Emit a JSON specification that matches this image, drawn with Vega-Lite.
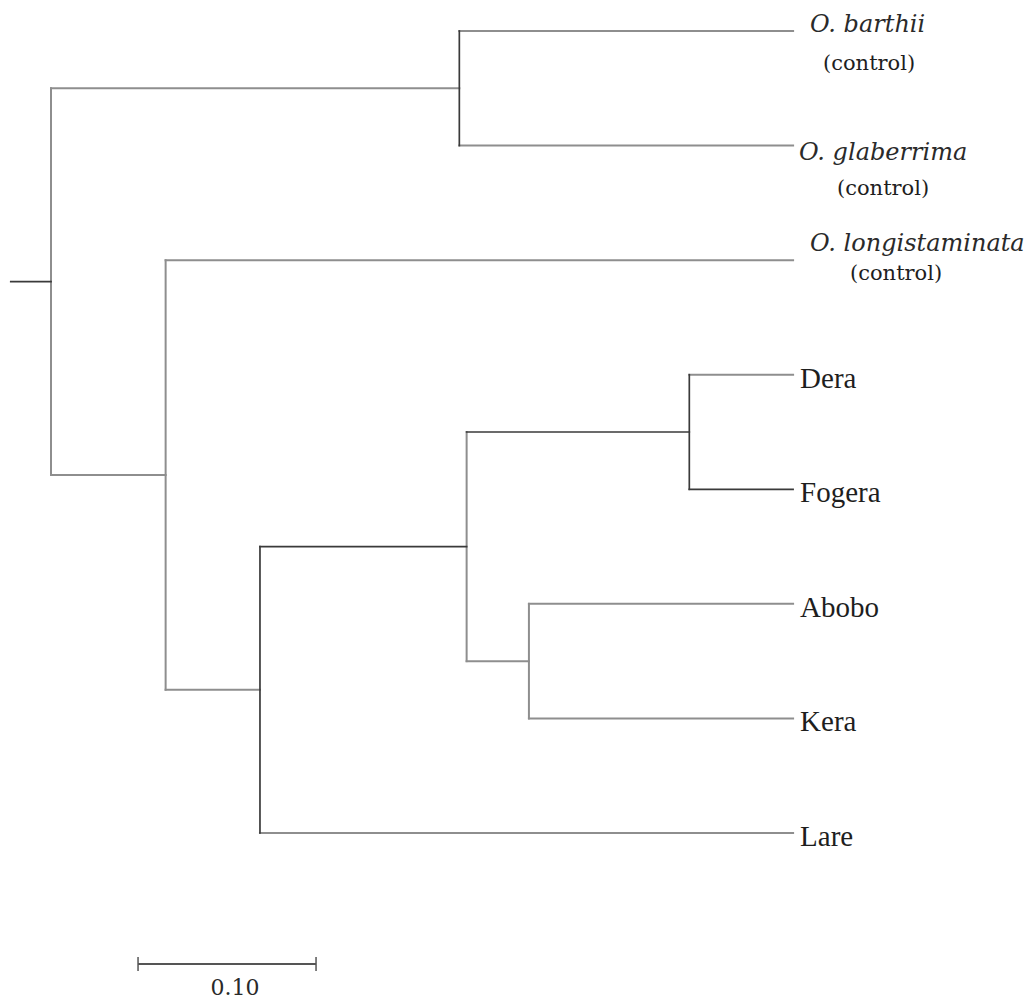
{
  "$schema": "https://vega.github.io/schema/vega-lite/v6.json",
  "width": 1032,
  "height": 1001,
  "autosize": {"type": "fit", "contains": "padding"},
  "padding": 0,
  "background": "white",
  "config": {"view": {"stroke": null}},
  "datasets": {
    "branches": [
      {"x": 0, "x2": 0, "y": 0.5, "y2": 3.875},
      {"x": 0, "x2": 0.2294, "y": 0.5, "y2": 0.5},
      {"x": 0.2294, "x2": 0.4169, "y": 0, "y2": 0},
      {"x": 0.2294, "x2": 0.4169, "y": 1, "y2": 1},
      {"x": 0, "x2": 0.0644, "y": 3.875, "y2": 3.875},
      {"x": 0.0644, "x2": 0.0644, "y": 2, "y2": 5.75},
      {"x": 0.0644, "x2": 0.4169, "y": 2, "y2": 2},
      {"x": 0.0644, "x2": 0.1174, "y": 5.75, "y2": 5.75},
      {"x": 0.1174, "x2": 0.4169, "y": 7, "y2": 7},
      {"x": 0.2335, "x2": 0.2335, "y": 3.5, "y2": 5.5},
      {"x": 0.2335, "x2": 0.2685, "y": 5.5, "y2": 5.5},
      {"x": 0.2685, "x2": 0.2685, "y": 5, "y2": 6},
      {"x": 0.2685, "x2": 0.4169, "y": 5, "y2": 5},
      {"x": 0.2685, "x2": 0.4169, "y": 6, "y2": 6},
      {"x": 0.3586, "x2": 0.4169, "y": 3, "y2": 3}
    ],
    "dark_branches": [
      {"x": -0.0226, "x2": 0, "y": 2.1875, "y2": 2.1875},
      {"x": 0.2294, "x2": 0.2294, "y": 0, "y2": 1},
      {"x": 0.1174, "x2": 0.1174, "y": 4.5, "y2": 7},
      {"x": 0.1174, "x2": 0.2335, "y": 4.5, "y2": 4.5},
      {"x": 0.2335, "x2": 0.3586, "y": 3.5, "y2": 3.5},
      {"x": 0.3586, "x2": 0.3586, "y": 3, "y2": 4},
      {"x": 0.3586, "x2": 0.4169, "y": 4, "y2": 4}
    ],
    "tips": [
      {"taxon": "O. barthii", "status": "control", "x": 0.4169, "y": 0},
      {"taxon": "O. glaberrima", "status": "control", "x": 0.4169, "y": 1},
      {"taxon": "O. longistaminata", "status": "control", "x": 0.4169, "y": 2},
      {"taxon": "Dera", "status": "cultivar", "x": 0.4169, "y": 3},
      {"taxon": "Fogera", "status": "cultivar", "x": 0.4169, "y": 4},
      {"taxon": "Abobo", "status": "cultivar", "x": 0.4169, "y": 5},
      {"taxon": "Kera", "status": "cultivar", "x": 0.4169, "y": 6},
      {"taxon": "Lare", "status": "cultivar", "x": 0.4169, "y": 7}
    ],
    "scale_bar": [
      {"x": 0.0489, "x2": 0.1489, "y": 8.143, "label": "0.10"}
    ]
  },
  "encoding": {
    "x": {"type": "quantitative", "scale": {"domain": [-0.02865, 0.55112], "nice": false, "zero": false}, "axis": null},
    "y": {"type": "quantitative", "scale": {"domain": [-0.2706, 8.4664], "nice": false, "zero": false, "reverse": true}, "axis": null}
  },
  "layer": [
    {
      "data": {"name": "branches"},
      "mark": {"type": "rule", "color": "#8e8e8e", "strokeWidth": 2, "strokeCap": "square"},
      "encoding": {"x": {"field": "x", "type": "quantitative"}, "x2": {"field": "x2"}, "y": {"field": "y", "type": "quantitative"}, "y2": {"field": "y2"}}
    },
    {
      "data": {"name": "dark_branches"},
      "mark": {"type": "rule", "color": "#3a3a3a", "strokeWidth": 1.7, "strokeCap": "square"},
      "encoding": {"x": {"field": "x", "type": "quantitative"}, "x2": {"field": "x2"}, "y": {"field": "y", "type": "quantitative"}, "y2": {"field": "y2"}}
    },
    {
      "data": {"name": "tips"},
      "transform": [{"filter": "datum.status === 'cultivar'"}],
      "mark": {"type": "text", "align": "left", "baseline": "alphabetic", "dx": 7, "dy": 13, "font": "Liberation Serif", "fontSize": 29, "color": "#1e1e1e"},
      "encoding": {"x": {"field": "x", "type": "quantitative"}, "y": {"field": "y", "type": "quantitative"}, "text": {"field": "taxon"}}
    },
    {
      "data": {"name": "tips"},
      "transform": [{"filter": "datum.taxon === 'O. barthii'"}],
      "layer": [
        {"mark": {"type": "text", "align": "left", "baseline": "alphabetic", "dx": 17, "dy": 0.5, "font": "DejaVu Serif", "fontStyle": "italic", "fontSize": 24, "color": "#2a2a2a"},
         "encoding": {"x": {"field": "x", "type": "quantitative"}, "y": {"field": "y", "type": "quantitative"}, "text": {"field": "taxon"}}},
        {"mark": {"type": "text", "align": "center", "baseline": "middle", "dx": 76, "dy": 33, "font": "DejaVu Serif", "fontSize": 21, "color": "#1e1e1e"},
         "encoding": {"x": {"field": "x", "type": "quantitative"}, "y": {"field": "y", "type": "quantitative"}, "text": {"value": "(control)"}}}
      ]
    },
    {
      "data": {"name": "tips"},
      "transform": [{"filter": "datum.taxon === 'O. glaberrima'"}],
      "layer": [
        {"mark": {"type": "text", "align": "left", "baseline": "alphabetic", "dx": 6, "dy": 14, "font": "DejaVu Serif", "fontStyle": "italic", "fontSize": 24, "color": "#2a2a2a"},
         "encoding": {"x": {"field": "x", "type": "quantitative"}, "y": {"field": "y", "type": "quantitative"}, "text": {"field": "taxon"}}},
        {"mark": {"type": "text", "align": "center", "baseline": "middle", "dx": 90, "dy": 43, "font": "DejaVu Serif", "fontSize": 21, "color": "#1e1e1e"},
         "encoding": {"x": {"field": "x", "type": "quantitative"}, "y": {"field": "y", "type": "quantitative"}, "text": {"value": "(control)"}}}
      ]
    },
    {
      "data": {"name": "tips"},
      "transform": [{"filter": "datum.taxon === 'O. longistaminata'"}],
      "layer": [
        {"mark": {"type": "text", "align": "left", "baseline": "alphabetic", "dx": 17, "dy": -9, "font": "DejaVu Serif", "fontStyle": "italic", "fontSize": 24, "color": "#2a2a2a"},
         "encoding": {"x": {"field": "x", "type": "quantitative"}, "y": {"field": "y", "type": "quantitative"}, "text": {"field": "taxon"}}},
        {"mark": {"type": "text", "align": "center", "baseline": "middle", "dx": 103, "dy": 13.5, "font": "DejaVu Serif", "fontSize": 21, "color": "#1e1e1e"},
         "encoding": {"x": {"field": "x", "type": "quantitative"}, "y": {"field": "y", "type": "quantitative"}, "text": {"value": "(control)"}}}
      ]
    },
    {
      "data": {"name": "scale_bar"},
      "layer": [
        {"mark": {"type": "rule", "color": "#555555", "strokeWidth": 2},
         "encoding": {"x": {"field": "x", "type": "quantitative"}, "x2": {"field": "x2"}, "y": {"field": "y", "type": "quantitative"}}},
        {"mark": {"type": "tick", "orient": "vertical", "size": 14, "thickness": 1.5, "color": "#555555", "opacity": 1},
         "encoding": {"x": {"field": "x", "type": "quantitative"}, "y": {"field": "y", "type": "quantitative"}}},
        {"mark": {"type": "tick", "orient": "vertical", "size": 14, "thickness": 1.5, "color": "#555555", "opacity": 1},
         "encoding": {"x": {"field": "x2", "type": "quantitative"}, "y": {"field": "y", "type": "quantitative"}}},
        {"mark": {"type": "text", "align": "center", "baseline": "alphabetic", "dx": 97, "dy": 31, "font": "DejaVu Serif", "fontSize": 22, "color": "#2a2a2a"},
         "encoding": {"x": {"field": "x", "type": "quantitative"}, "y": {"field": "y", "type": "quantitative"}, "text": {"field": "label"}}}
      ]
    }
  ]
}
